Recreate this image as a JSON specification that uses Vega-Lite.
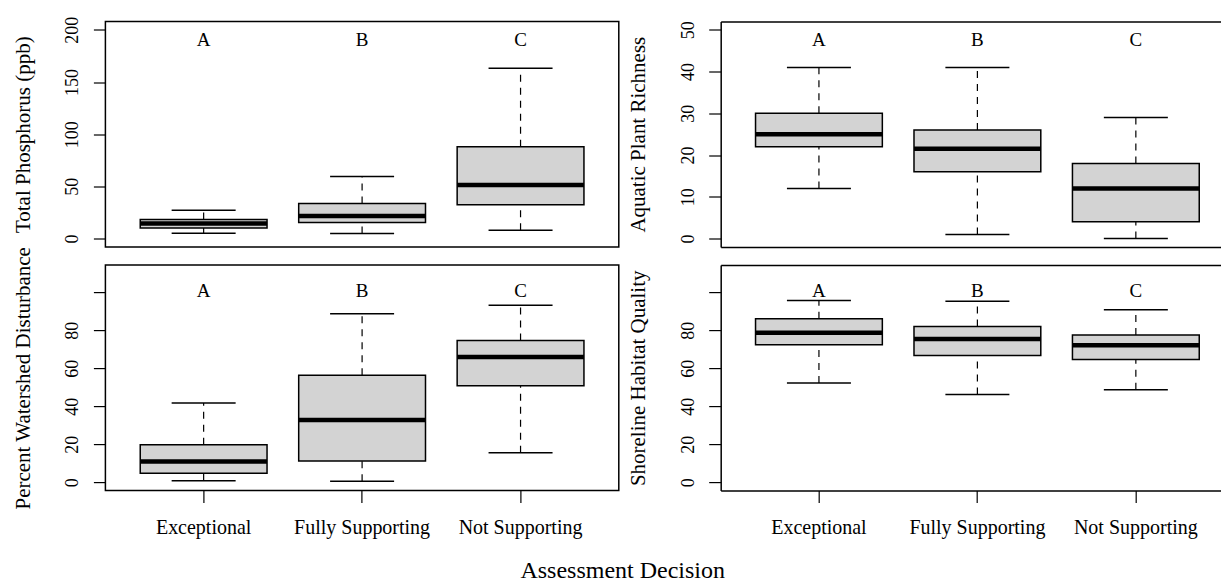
{
  "$schema": "https://vega.github.io/schema/vega-lite/v6.json",
  "padding": {"left": 10.4, "top": 15.5, "right": 0, "bottom": 0},
  "background": "white",
  "datasets": {
    "tp": [
      {"group": "Exceptional", "lo": 5.1, "q1": 10.2, "med": 14.4, "q3": 18.2, "hi": 27.2, "letter": "A", "ly": 190},
      {"group": "Fully Supporting", "lo": 4.8, "q1": 15.3, "med": 21.7, "q3": 33.5, "hi": 59.4, "letter": "B", "ly": 190},
      {"group": "Not Supporting", "lo": 8, "q1": 32.3, "med": 51.4, "q3": 87.9, "hi": 163.3, "letter": "C", "ly": 190}
    ],
    "apr": [
      {"group": "Exceptional", "lo": 12, "q1": 22, "med": 25, "q3": 30, "hi": 41, "letter": "A", "ly": 47.5},
      {"group": "Fully Supporting", "lo": 1, "q1": 16, "med": 21.5, "q3": 26, "hi": 41, "letter": "B", "ly": 47.5},
      {"group": "Not Supporting", "lo": 0, "q1": 4, "med": 12, "q3": 18, "hi": 29, "letter": "C", "ly": 47.5}
    ],
    "pwd": [
      {"group": "Exceptional", "lo": 0.7, "q1": 4.7, "med": 10.9, "q3": 19.7, "hi": 41.7, "letter": "A", "ly": 101},
      {"group": "Fully Supporting", "lo": 0.5, "q1": 11.2, "med": 32.7, "q3": 56.4, "hi": 88.8, "letter": "B", "ly": 101},
      {"group": "Not Supporting", "lo": 15.5, "q1": 50.8, "med": 65.9, "q3": 74.7, "hi": 93.3, "letter": "C", "ly": 101}
    ],
    "shq": [
      {"group": "Exceptional", "lo": 52.2, "q1": 72.4, "med": 78.7, "q3": 86.1, "hi": 95.8, "letter": "A", "ly": 101},
      {"group": "Fully Supporting", "lo": 46.2, "q1": 66.8, "med": 75.4, "q3": 82.1, "hi": 95.4, "letter": "B", "ly": 101},
      {"group": "Not Supporting", "lo": 48.7, "q1": 64.7, "med": 72.2, "q3": 77.5, "hi": 90.9, "letter": "C", "ly": 101}
    ]
  },
  "columns": 2,
  "spacing": {"row": 17.6, "column": 101.3},
  "bounds": "flush",
  "title": {"text": "Assessment Decision", "orient": "bottom", "anchor": "middle", "font": "Liberation Serif", "fontSize": 24, "fontWeight": "normal", "color": "black", "baseline": "alphabetic", "offset": 39},
  "concat": [
    {
      "width": 513.4, "height": 225.4,
      "data": {"name": "tp"},
      "encoding": {"x": {"field": "group", "type": "nominal", "scale": {"type": "band", "domain": ["Exceptional", "Fully Supporting", "Not Supporting"], "paddingInner": 0, "paddingOuter": 0.12}, "axis": null}},
      "layer": [
        {"mark": {"type": "rule", "strokeDash": [7, 6], "strokeWidth": 1.2, "color": "black"},
         "encoding": {"y": {"field": "lo", "type": "quantitative", "scale": {"domain": [-8, 208], "nice": false, "zero": false},
           "axis": {"title": "Total Phosphorus (ppb)", "values": [0, 50, 100, 150, 200], "labelFont": "Liberation Serif", "titleFont": "Liberation Serif", "labelAngle": -90, "labelAlign": "center", "labelBaseline": "alphabetic", "labelPadding": 15.5, "labelFontSize": 18, "labelOverlap": false, "labelFlush": false, "titleFontSize": 21, "titleX": -76.3, "titleY": 112.7, "titleAngle": -90, "titleAlign": "center", "titleBaseline": "alphabetic"}},
           "y2": {"field": "q1"}}},
        {"mark": {"type": "rule", "strokeDash": [7, 6], "strokeWidth": 1.2, "color": "black"},
         "encoding": {"y": {"field": "q3", "type": "quantitative"}, "y2": {"field": "hi"}}},
        {"mark": {"type": "tick", "orient": "horizontal", "size": 64, "thickness": 1.5, "color": "black", "opacity": 1},
         "encoding": {"y": {"field": "lo", "type": "quantitative"}}},
        {"mark": {"type": "tick", "orient": "horizontal", "size": 64, "thickness": 1.5, "color": "black", "opacity": 1},
         "encoding": {"y": {"field": "hi", "type": "quantitative"}}},
        {"mark": {"type": "bar", "size": 126.8, "fill": "#d3d3d3", "stroke": "black", "strokeWidth": 1.5},
         "encoding": {"y": {"field": "q1", "type": "quantitative"}, "y2": {"field": "q3"}}},
        {"mark": {"type": "tick", "orient": "horizontal", "size": 126.8, "thickness": 4.5, "color": "black", "opacity": 1},
         "encoding": {"y": {"field": "med", "type": "quantitative"}}},
        {"mark": {"type": "text", "font": "Liberation Serif", "fontSize": 19, "baseline": "middle", "color": "black"},
         "encoding": {"y": {"field": "ly", "type": "quantitative"}, "text": {"field": "letter"}}}
      ]
    },
    {
      "width": 513.4, "height": 225.4,
      "view": {"stroke": null},
      "data": {"name": "apr"},
      "resolve": {"axis": {"x": "independent"}},
      "layer": [
        {"mark": {"type": "rule", "strokeDash": [7, 6], "strokeWidth": 1.2, "color": "black"},
         "encoding": {
           "x": {"field": "group", "type": "nominal", "scale": {"type": "band", "domain": ["Exceptional", "Fully Supporting", "Not Supporting"], "paddingInner": 0, "paddingOuter": 0.12},
             "axis": {"orient": "bottom", "title": null, "domain": true, "domainColor": "black", "domainWidth": 1.5, "ticks": false, "labels": false}},
           "y": {"field": "lo", "type": "quantitative", "scale": {"domain": [-2, 52], "nice": false, "zero": false},
           "axis": {"title": "Aquatic Plant Richness", "values": [0, 10, 20, 30, 40, 50], "domain": true, "domainColor": "black", "domainWidth": 1.5, "labelFont": "Liberation Serif", "titleFont": "Liberation Serif", "labelAngle": -90, "labelAlign": "center", "labelBaseline": "alphabetic", "labelPadding": 15.5, "labelFontSize": 18, "labelOverlap": false, "labelFlush": false, "titleFontSize": 21, "titleX": -76.3, "titleY": 112.7, "titleAngle": -90, "titleAlign": "center", "titleBaseline": "alphabetic"}},
           "y2": {"field": "q1"}}},
        {"mark": {"type": "rule", "strokeDash": [7, 6], "strokeWidth": 1.2, "color": "black"},
         "encoding": {
           "x": {"field": "group", "type": "nominal", "axis": {"orient": "top", "title": null, "domain": true, "domainColor": "black", "domainWidth": 1.5, "ticks": false, "labels": false}},
           "y": {"field": "q3", "type": "quantitative"}, "y2": {"field": "hi"}}},
        {"mark": {"type": "tick", "orient": "horizontal", "size": 64, "thickness": 1.5, "color": "black", "opacity": 1},
         "encoding": {"x": {"field": "group", "type": "nominal", "axis": null}, "y": {"field": "lo", "type": "quantitative"}}},
        {"mark": {"type": "tick", "orient": "horizontal", "size": 64, "thickness": 1.5, "color": "black", "opacity": 1},
         "encoding": {"x": {"field": "group", "type": "nominal", "axis": null}, "y": {"field": "hi", "type": "quantitative"}}},
        {"mark": {"type": "bar", "size": 126.8, "fill": "#d3d3d3", "stroke": "black", "strokeWidth": 1.5},
         "encoding": {"x": {"field": "group", "type": "nominal", "axis": null}, "y": {"field": "q1", "type": "quantitative"}, "y2": {"field": "q3"}}},
        {"mark": {"type": "tick", "orient": "horizontal", "size": 126.8, "thickness": 4.5, "color": "black", "opacity": 1},
         "encoding": {"x": {"field": "group", "type": "nominal", "axis": null}, "y": {"field": "med", "type": "quantitative"}}},
        {"mark": {"type": "text", "font": "Liberation Serif", "fontSize": 19, "baseline": "middle", "color": "black"},
         "encoding": {"x": {"field": "group", "type": "nominal", "axis": null}, "y": {"field": "ly", "type": "quantitative"}, "text": {"field": "letter"}}}
      ]
    },
    {
      "width": 513.4, "height": 225.4,
      "data": {"name": "pwd"},
      "encoding": {"x": {"field": "group", "type": "nominal", "scale": {"type": "band", "domain": ["Exceptional", "Fully Supporting", "Not Supporting"], "paddingInner": 0, "paddingOuter": 0.12},
        "axis": {"title": null, "labelFont": "Liberation Serif", "labelAngle": 0, "labelAlign": "center", "labelBaseline": "alphabetic", "labelPadding": 31.3, "labelFontSize": 20, "labelOverlap": false, "labelLimit": 400}}},
      "layer": [
        {"mark": {"type": "rule", "strokeDash": [7, 6], "strokeWidth": 1.2, "color": "black"},
         "encoding": {"y": {"field": "lo", "type": "quantitative", "scale": {"domain": [-4.4, 114.4], "nice": false, "zero": false},
           "axis": {"title": "Percent Watershed Disturbance", "values": [0, 20, 40, 60, 80, 100], "labelExpr": "datum.value == 100 ? '' : datum.label", "labelFont": "Liberation Serif", "titleFont": "Liberation Serif", "labelAngle": -90, "labelAlign": "center", "labelBaseline": "alphabetic", "labelPadding": 15.5, "labelFontSize": 18, "labelOverlap": false, "labelFlush": false, "titleFontSize": 21, "titleX": -76.3, "titleY": 112.7, "titleAngle": -90, "titleAlign": "center", "titleBaseline": "alphabetic"}},
           "y2": {"field": "q1"}}},
        {"mark": {"type": "rule", "strokeDash": [7, 6], "strokeWidth": 1.2, "color": "black"},
         "encoding": {"y": {"field": "q3", "type": "quantitative"}, "y2": {"field": "hi"}}},
        {"mark": {"type": "tick", "orient": "horizontal", "size": 64, "thickness": 1.5, "color": "black", "opacity": 1},
         "encoding": {"y": {"field": "lo", "type": "quantitative"}}},
        {"mark": {"type": "tick", "orient": "horizontal", "size": 64, "thickness": 1.5, "color": "black", "opacity": 1},
         "encoding": {"y": {"field": "hi", "type": "quantitative"}}},
        {"mark": {"type": "bar", "size": 126.8, "fill": "#d3d3d3", "stroke": "black", "strokeWidth": 1.5},
         "encoding": {"y": {"field": "q1", "type": "quantitative"}, "y2": {"field": "q3"}}},
        {"mark": {"type": "tick", "orient": "horizontal", "size": 126.8, "thickness": 4.5, "color": "black", "opacity": 1},
         "encoding": {"y": {"field": "med", "type": "quantitative"}}},
        {"mark": {"type": "text", "font": "Liberation Serif", "fontSize": 19, "baseline": "middle", "color": "black"},
         "encoding": {"y": {"field": "ly", "type": "quantitative"}, "text": {"field": "letter"}}}
      ]
    },
    {
      "width": 513.4, "height": 225.4,
      "view": {"stroke": null},
      "data": {"name": "shq"},
      "resolve": {"axis": {"x": "independent"}},
      "layer": [
        {"mark": {"type": "rule", "strokeDash": [7, 6], "strokeWidth": 1.2, "color": "black"},
         "encoding": {
           "x": {"field": "group", "type": "nominal", "scale": {"type": "band", "domain": ["Exceptional", "Fully Supporting", "Not Supporting"], "paddingInner": 0, "paddingOuter": 0.12},
             "axis": {"orient": "bottom", "title": null, "domain": true, "domainColor": "black", "domainWidth": 1.5, "labelFont": "Liberation Serif", "labelAngle": 0, "labelAlign": "center", "labelBaseline": "alphabetic", "labelPadding": 31.3, "labelFontSize": 20, "labelOverlap": false, "labelLimit": 400}},
           "y": {"field": "lo", "type": "quantitative", "scale": {"domain": [-4.4, 114.4], "nice": false, "zero": false},
           "axis": {"title": "Shoreline Habitat Quality", "values": [0, 20, 40, 60, 80, 100], "labelExpr": "datum.value == 100 ? '' : datum.label", "domain": true, "domainColor": "black", "domainWidth": 1.5, "labelFont": "Liberation Serif", "titleFont": "Liberation Serif", "labelAngle": -90, "labelAlign": "center", "labelBaseline": "alphabetic", "labelPadding": 15.5, "labelFontSize": 18, "labelOverlap": false, "labelFlush": false, "titleFontSize": 21, "titleX": -76.3, "titleY": 112.7, "titleAngle": -90, "titleAlign": "center", "titleBaseline": "alphabetic"}},
           "y2": {"field": "q1"}}},
        {"mark": {"type": "rule", "strokeDash": [7, 6], "strokeWidth": 1.2, "color": "black"},
         "encoding": {
           "x": {"field": "group", "type": "nominal", "axis": {"orient": "top", "title": null, "domain": true, "domainColor": "black", "domainWidth": 1.5, "ticks": false, "labels": false}},
           "y": {"field": "q3", "type": "quantitative"}, "y2": {"field": "hi"}}},
        {"mark": {"type": "tick", "orient": "horizontal", "size": 64, "thickness": 1.5, "color": "black", "opacity": 1},
         "encoding": {"x": {"field": "group", "type": "nominal", "axis": null}, "y": {"field": "lo", "type": "quantitative"}}},
        {"mark": {"type": "tick", "orient": "horizontal", "size": 64, "thickness": 1.5, "color": "black", "opacity": 1},
         "encoding": {"x": {"field": "group", "type": "nominal", "axis": null}, "y": {"field": "hi", "type": "quantitative"}}},
        {"mark": {"type": "bar", "size": 126.8, "fill": "#d3d3d3", "stroke": "black", "strokeWidth": 1.5},
         "encoding": {"x": {"field": "group", "type": "nominal", "axis": null}, "y": {"field": "q1", "type": "quantitative"}, "y2": {"field": "q3"}}},
        {"mark": {"type": "tick", "orient": "horizontal", "size": 126.8, "thickness": 4.5, "color": "black", "opacity": 1},
         "encoding": {"x": {"field": "group", "type": "nominal", "axis": null}, "y": {"field": "med", "type": "quantitative"}}},
        {"mark": {"type": "text", "font": "Liberation Serif", "fontSize": 19, "baseline": "middle", "color": "black"},
         "encoding": {"x": {"field": "group", "type": "nominal", "axis": null}, "y": {"field": "ly", "type": "quantitative"}, "text": {"field": "letter"}}}
      ]
    }
  ],
  "config": {
    "view": {"stroke": "black", "strokeWidth": 1.5},
    "font": "Liberation Serif",
    "axis": {"domain": false, "grid": false, "ticks": true, "tickColor": "black", "tickWidth": 1.2, "tickSize": 12, "labelColor": "black", "labelFont": "Liberation Serif", "titleFont": "Liberation Serif", "titleColor": "black", "titleFontWeight": "normal"}
  }
}
